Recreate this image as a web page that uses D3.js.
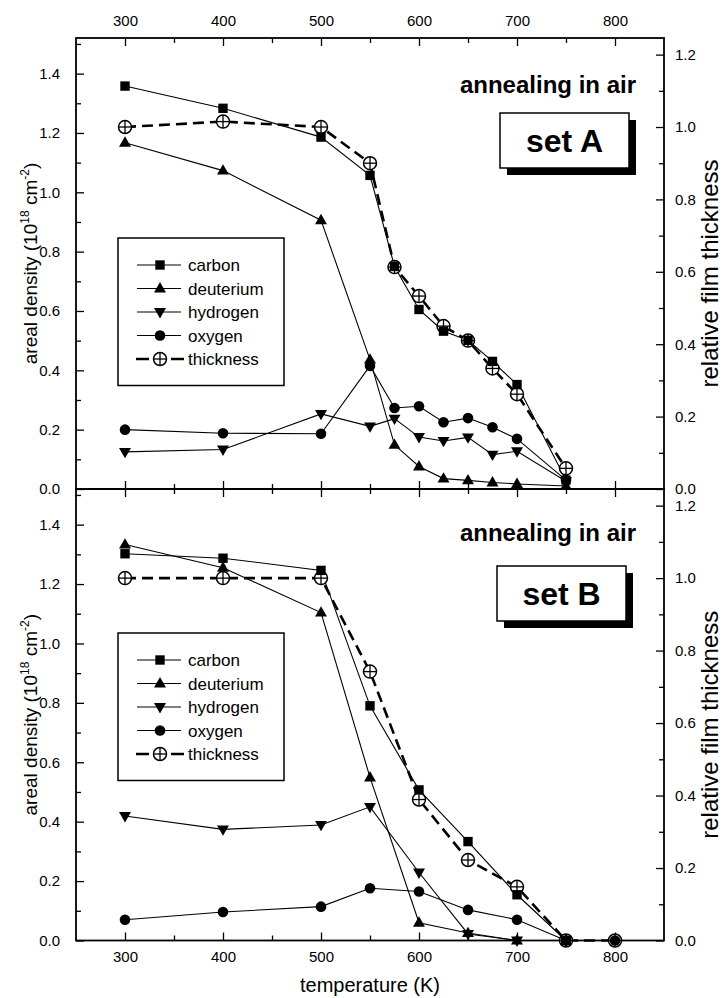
<!DOCTYPE html>
<html>
<head>
<meta charset="utf-8">
<script src="https://cdn.jsdelivr.net/npm/d3@7/dist/d3.min.js"></script>
<style>
  html, body { margin: 0; padding: 0; background: #fff; }
  svg { display: block; }
  text { font-family: "Liberation Sans", Arial, Helvetica, sans-serif; fill: #000; }
</style>
</head>
<body>
<script>
// ---------- data ----------
const xTicks = [300, 400, 500, 600, 700, 800];
const leftTicks = [0, 0.2, 0.4, 0.6, 0.8, 1.0, 1.2, 1.4];
const rightTicks = [0, 0.2, 0.4, 0.6, 0.8, 1.0, 1.2];
const seriesNames = ["carbon", "deuterium", "hydrogen", "oxygen", "thickness"];

// set A
const tempsA     = [300, 400, 500, 550, 575, 600, 625, 650, 675, 700, 750];
const carbonA    = [1.358, 1.283, 1.186, 1.057, 0.75, 0.605, 0.532, 0.501, 0.43, 0.352, 0.03];
const deuteriumA = [1.167, 1.073, 0.906, 0.436, 0.149, 0.076, 0.035, 0.029, 0.022, 0.017, 0.01];
const hydrogenA  = [0.125, 0.133, 0.253, 0.211, 0.237, 0.175, 0.162, 0.174, 0.116, 0.127, 0.026];
const oxygenA    = [0.2, 0.188, 0.186, 0.415, 0.273, 0.279, 0.225, 0.239, 0.208, 0.169, 0.03];
const thicknessA = [1.0, 1.015, 1.0, 0.9, 0.613, 0.533, 0.45, 0.41, 0.333, 0.262, 0.057];

// set B
const tempsB     = [300, 400, 500, 550, 600, 650, 700, 750, 800];
const carbonB    = [1.302, 1.287, 1.246, 0.79, 0.507, 0.333, 0.154, 0.0];
const deuteriumB = [1.333, 1.255, 1.104, 0.549, 0.06, 0.025, 0.0, 0.0];
const hydrogenB  = [0.419, 0.374, 0.389, 0.45, 0.229, 0.022, 0.0, 0.0];
const oxygenB    = [0.07, 0.096, 0.114, 0.176, 0.165, 0.103, 0.07, 0.0, 0.0];
const thicknessB = [1.0, 1.0, 1.0, 0.742, 0.389, 0.222, 0.148, 0.0, 0.0];

const panelsData = [
  { label: "set A", temps: tempsA, carbon: carbonA, deuterium: deuteriumA, hydrogen: hydrogenA, oxygen: oxygenA, thickness: thicknessA },
  { label: "set B", temps: tempsB, carbon: carbonB, deuterium: deuteriumB, hydrogen: hydrogenB, oxygen: oxygenB, thickness: thicknessB }
];

// ---------- layout ----------
const W = 725, H = 998;
const X0 = 76, X1 = 664;
const panelGeom = [{ top: 38, bottom: 489 }, { top: 489, bottom: 940.5 }];
const FONT = '"Liberation Sans", Arial, Helvetica, sans-serif';

const svg = d3.select("body").append("svg").attr("width", W).attr("height", H);

const x = d3.scaleLinear().domain([250, 850]).range([X0, X1]);
const xMinor = d3.range(250, 851, 50);

function marker(g, type, cx, cy) {
  if (type === "carbon") {
    g.append("path").attr("d", d3.symbol(d3.symbolSquare, 88)())
      .attr("transform", `translate(${cx},${cy})`).attr("fill", "#000");
  } else if (type === "deuterium") {
    g.append("path").attr("d", d3.symbol(d3.symbolTriangle, 62)())
      .attr("transform", `translate(${cx},${cy + 0.5})`).attr("fill", "#000");
  } else if (type === "hydrogen") {
    g.append("path").attr("d", d3.symbol(d3.symbolTriangle, 62)())
      .attr("transform", `translate(${cx},${cy - 0.5}) rotate(180)`).attr("fill", "#000");
  } else if (type === "oxygen") {
    g.append("circle").attr("cx", cx).attr("cy", cy).attr("r", 5.3).attr("fill", "#000");
  } else {
    const r = 6.5;
    g.append("circle").attr("cx", cx).attr("cy", cy).attr("r", r)
      .attr("fill", "#fff").attr("stroke", "#000").attr("stroke-width", 1.5);
    g.append("line").attr("x1", cx - r).attr("x2", cx + r).attr("y1", cy).attr("y2", cy)
      .attr("stroke", "#000").attr("stroke-width", 1.3);
    g.append("line").attr("x1", cx).attr("x2", cx).attr("y1", cy - r).attr("y2", cy + r)
      .attr("stroke", "#000").attr("stroke-width", 1.3);
  }
}

panelsData.forEach((pd, i) => {
  const geo = panelGeom[i];
  const yL = d3.scaleLinear().domain([0, 1.52]).range([geo.bottom, geo.top]);
  const yR = d3.scaleLinear().domain([0, 1.52 / 1.22]).range([geo.bottom, geo.top]);
  const g = svg.append("g");

  // ---- axes ----
  const styleAxis = sel => {
    sel.select(".domain").remove();
    sel.selectAll("line").attr("stroke", "#000").attr("stroke-width", 1.3);
    sel.selectAll("text").style("font-family", FONT).style("font-size", "15px").attr("fill", "#000");
  };
  // left
  g.append("g").attr("transform", `translate(${X0},0)`)
    .call(d3.axisLeft(yL).tickValues(leftTicks).tickFormat(d3.format(".1f")).tickSizeInner(-8).tickSizeOuter(0).tickPadding(16))
    .call(styleAxis);
  g.append("g").attr("transform", `translate(${X0},0)`)
    .call(d3.axisLeft(yL).tickValues(d3.range(0.1, 1.51, 0.2)).tickFormat("").tickSizeInner(-5).tickSizeOuter(0))
    .call(styleAxis);
  // right
  g.append("g").attr("transform", `translate(${X1},0)`)
    .call(d3.axisRight(yR).tickValues(rightTicks).tickFormat(d3.format(".1f")).tickSizeInner(-8).tickSizeOuter(0).tickPadding(11))
    .call(styleAxis);
  g.append("g").attr("transform", `translate(${X1},0)`)
    .call(d3.axisRight(yR).tickValues(d3.range(0.1, 1.21, 0.2)).tickFormat("").tickSizeInner(-5).tickSizeOuter(0))
    .call(styleAxis);
  // top
  g.append("g").attr("transform", `translate(0,${geo.top})`)
    .call(d3.axisTop(x).tickValues(xTicks).tickFormat(i === 0 ? d3.format("d") : "").tickSizeInner(-8).tickSizeOuter(0).tickPadding(12))
    .call(styleAxis);
  g.append("g").attr("transform", `translate(0,${geo.top})`)
    .call(d3.axisTop(x).tickValues(xMinor.filter(v => v % 100 !== 0 && v > 250 && v < 850)).tickFormat("").tickSizeInner(-5).tickSizeOuter(0))
    .call(styleAxis);
  // bottom
  g.append("g").attr("transform", `translate(0,${geo.bottom})`)
    .call(d3.axisBottom(x).tickValues(xTicks).tickFormat(i === 1 ? d3.format("d") : "").tickSizeInner(-8).tickSizeOuter(0).tickPadding(11))
    .call(styleAxis);
  g.append("g").attr("transform", `translate(0,${geo.bottom})`)
    .call(d3.axisBottom(x).tickValues(xMinor.filter(v => v % 100 !== 0 && v > 250 && v < 850)).tickFormat("").tickSizeInner(-5).tickSizeOuter(0))
    .call(styleAxis);

  // frame
  g.append("rect").attr("x", X0).attr("y", geo.top).attr("width", X1 - X0).attr("height", geo.bottom - geo.top)
    .attr("fill", "none").attr("stroke", "#000").attr("stroke-width", 1.8);

  // ---- series ----
  const lineL = d3.line().x(d => x(d[0])).y(d => yL(d[1]));
  const lineR = d3.line().x(d => x(d[0])).y(d => yR(d[1]));
  const pts = name => pd[name].map((v, k) => [pd.temps[k], v]);

  g.append("path").attr("d", lineR(pts("thickness"))).attr("fill", "none")
    .attr("stroke", "#000").attr("stroke-width", 2.6).attr("stroke-dasharray", "11,6");
  ["carbon", "deuterium", "hydrogen", "oxygen"].forEach(n => {
    g.append("path").attr("d", lineL(pts(n))).attr("fill", "none")
      .attr("stroke", "#000").attr("stroke-width", 1.1);
  });
  const mg = g.append("g");
  pts("thickness").forEach(p => marker(mg, "thickness", x(p[0]), yR(p[1])));
  ["oxygen", "hydrogen", "deuterium", "carbon"].forEach(n => {
    pts(n).forEach(p => marker(mg, n, x(p[0]), yL(p[1])));
  });

  // ---- legend ----
  const lgTop = geo.top + (i === 0 ? 200 : 144);
  const lg = g.append("g");
  lg.append("rect").attr("x", 118).attr("y", lgTop).attr("width", 166).attr("height", 147.5)
    .attr("fill", "#fff").attr("stroke", "#000").attr("stroke-width", 1.5);
  seriesNames.forEach((n, k) => {
    const ly = lgTop + 27 + k * 23.5;
    if (n === "thickness") {
      lg.append("line").attr("x1", 136).attr("x2", 184).attr("y1", ly).attr("y2", ly)
        .attr("stroke", "#000").attr("stroke-width", 2.6).attr("stroke-dasharray", "13,22");
    } else {
      lg.append("line").attr("x1", 137).attr("x2", 181).attr("y1", ly).attr("y2", ly)
        .attr("stroke", "#000").attr("stroke-width", 1.1);
    }
    marker(lg, n, 160, ly);
    lg.append("text").attr("x", 188).attr("y", ly + 6).style("font-size", "17px").text(n);
  });

  // ---- annotations ----
  g.append("text").attr("x", 636).attr("y", geo.top + (i === 0 ? 55 : 52)).attr("text-anchor", "end")
    .style("font-size", "24px").style("font-weight", "bold").text("annealing in air");
  const bx = i === 0 ? 500 : 497, by = geo.top + (i === 0 ? 75 : 77), bw = 129, bh = 55;
  g.append("rect").attr("x", bx + 7).attr("y", by + 7).attr("width", bw).attr("height", bh).attr("fill", "#000");
  g.append("rect").attr("x", bx).attr("y", by).attr("width", bw).attr("height", bh)
    .attr("fill", "#fff").attr("stroke", "#000").attr("stroke-width", 1.5);
  g.append("text").attr("x", bx + bw / 2).attr("y", by + 39).attr("text-anchor", "middle")
    .style("font-size", "32px").style("font-weight", "bold").text(pd.label);

  // ---- axis titles ----
  const cy = (geo.top + geo.bottom) / 2;
  const lt = g.append("text").attr("transform", `translate(37,${cy}) rotate(-90)`)
    .attr("text-anchor", "middle").style("font-size", "19px");
  lt.append("tspan").text("areal density (10");
  lt.append("tspan").attr("dy", -8).style("font-size", "12px").text("18");
  lt.append("tspan").attr("dy", 8).text(" cm");
  lt.append("tspan").attr("dy", -8).style("font-size", "12px").text("-2");
  lt.append("tspan").attr("dy", 8).text(")");

  g.append("text").attr("transform", `translate(718,${cy + 10}) rotate(-90)`)
    .attr("text-anchor", "middle").style("font-size", "24px").text("relative film thickness");
});

svg.append("text").attr("x", (X0 + X1) / 2).attr("y", 992).attr("text-anchor", "middle")
  .style("font-size", "20px").text("temperature (K)");
</script>
</body>
</html>
